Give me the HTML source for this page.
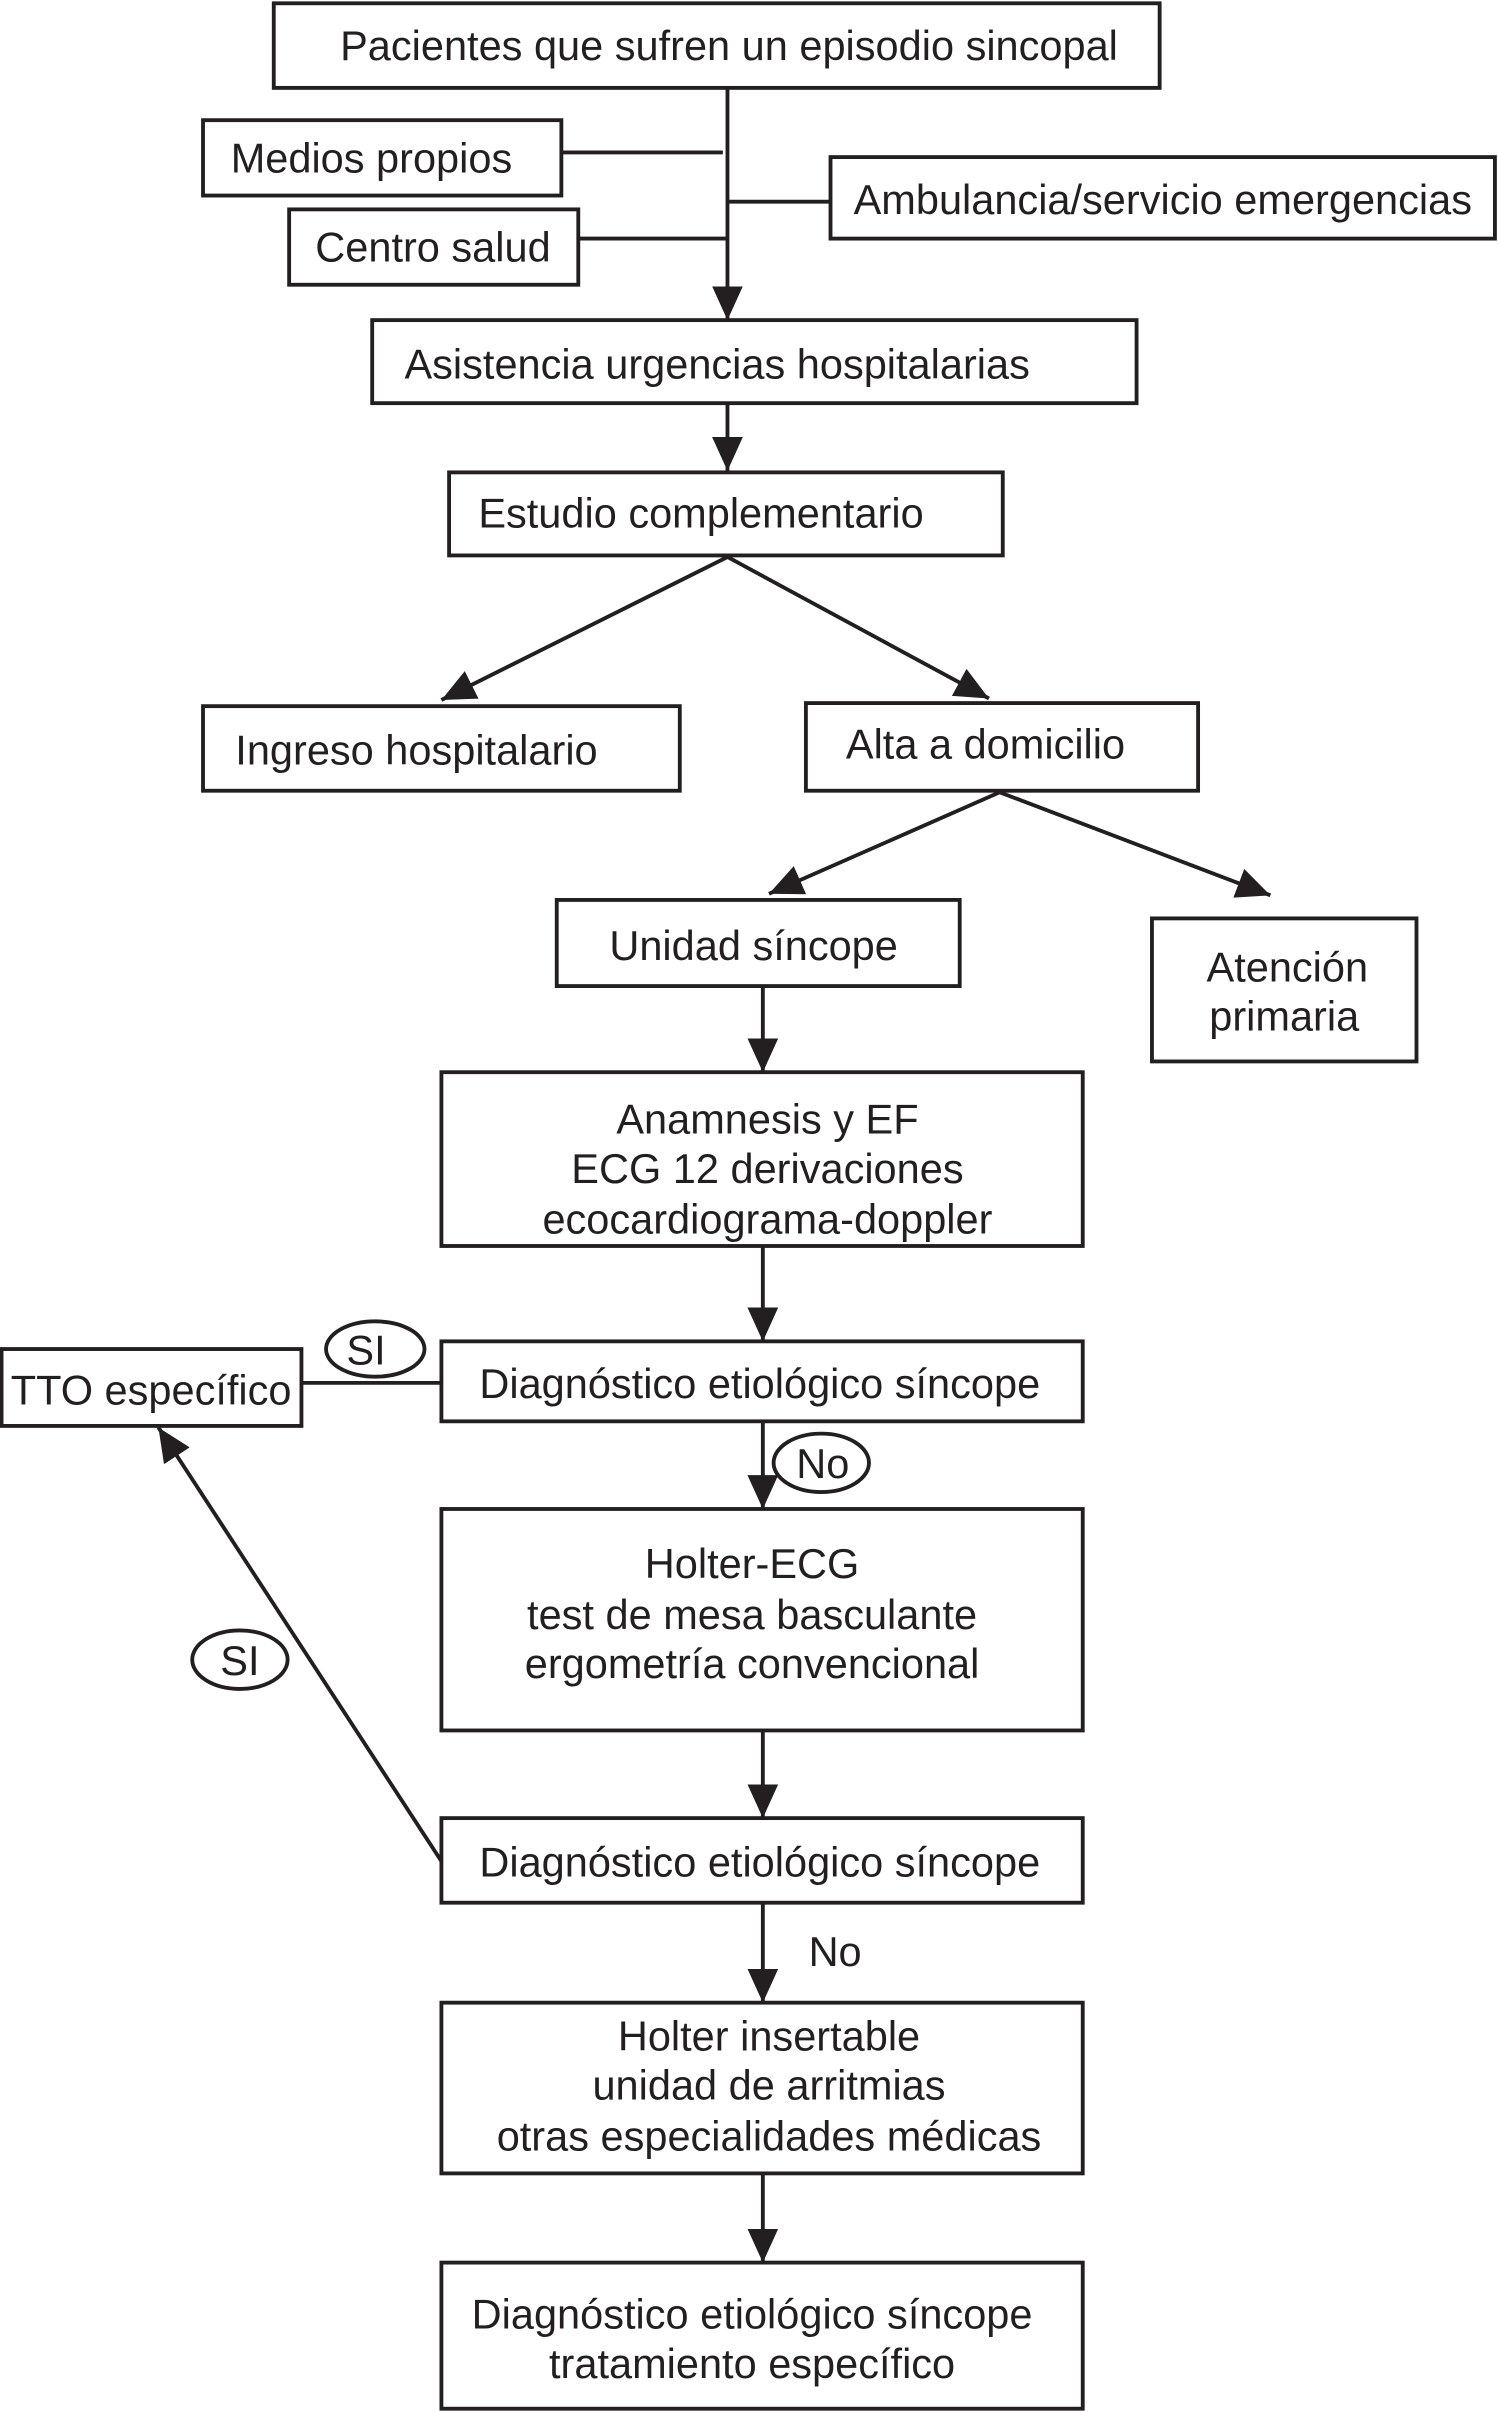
<!DOCTYPE html>
<html><head><meta charset="utf-8"><style>
html,body{margin:0;padding:0;background:#fff;}
svg{display:block;}
text{font-family:"Liberation Sans",Arial,sans-serif;font-size:27px;fill:#231f20;}
</style></head><body>
<svg width="1498" height="2412" viewBox="0 0 974 1568" xmlns="http://www.w3.org/2000/svg">
<defs>
<marker id="a" markerWidth="22" markerHeight="20" refX="22" refY="10" orient="auto" markerUnits="userSpaceOnUse">
<path d="M0,0 L22,10 L0,20 Z" fill="#231f20"/>
</marker>
</defs>
<g fill="none" stroke="#231f20" stroke-width="2.5">
<rect x="178" y="2" width="576" height="55"/>
<rect x="132" y="78" width="233" height="49"/>
<rect x="188" y="136" width="188" height="49"/>
<rect x="540" y="102" width="432" height="53"/>
<rect x="242" y="208" width="497" height="54"/>
<rect x="292" y="307" width="360" height="54"/>
<rect x="132" y="459" width="310" height="55"/>
<rect x="524" y="457" width="255" height="57"/>
<rect x="362" y="585" width="262" height="56"/>
<rect x="749" y="597" width="172" height="93"/>
<rect x="287" y="697" width="417" height="113"/>
<rect x="287" y="872" width="417" height="52"/>
<rect x="1" y="877" width="195" height="50"/>
<rect x="287" y="981" width="417" height="144"/>
<rect x="287" y="1182" width="417" height="55"/>
<rect x="287" y="1302" width="417" height="111"/>
<rect x="287" y="1471" width="417" height="95"/>
<line x1="365" y1="99" x2="470" y2="99"/>
<line x1="376" y1="155" x2="473" y2="155"/>
<line x1="473" y1="131" x2="540" y2="131"/>
<line x1="473" y1="57" x2="473" y2="208" marker-end="url(#a)"/>
<line x1="473" y1="262" x2="473" y2="306" marker-end="url(#a)"/>
<line x1="473" y1="362" x2="287" y2="455" marker-end="url(#a)"/>
<line x1="473" y1="362" x2="643" y2="454" marker-end="url(#a)"/>
<line x1="650" y1="515" x2="500" y2="581" marker-end="url(#a)"/>
<line x1="650" y1="515" x2="826" y2="582" marker-end="url(#a)"/>
<line x1="496" y1="641" x2="496" y2="697" marker-end="url(#a)"/>
<line x1="496" y1="810" x2="496" y2="872" marker-end="url(#a)"/>
<line x1="196" y1="899" x2="287" y2="899"/>
<line x1="496" y1="924" x2="496" y2="981" marker-end="url(#a)"/>
<line x1="496" y1="1125" x2="496" y2="1182" marker-end="url(#a)"/>
<line x1="287" y1="1210" x2="103" y2="928" marker-end="url(#a)"/>
<line x1="496" y1="1237" x2="496" y2="1302" marker-end="url(#a)"/>
<line x1="496" y1="1413" x2="496" y2="1471" marker-end="url(#a)"/>
<ellipse cx="244" cy="877" rx="32" ry="18" fill="#fff"/>
<ellipse cx="534" cy="951" rx="31" ry="19" fill="#fff"/>
<ellipse cx="156" cy="1079" rx="31" ry="19" fill="#fff"/>
</g>
<text x="474" y="39" text-anchor="middle">Pacientes que sufren un episodio sincopal</text>
<text x="150" y="112">Medios propios</text>
<text x="205" y="170">Centro salud</text>
<text x="555" y="139">Ambulancia/servicio emergencias</text>
<text x="263" y="246">Asistencia urgencias hospitalarias</text>
<text x="311" y="343">Estudio complementario</text>
<text x="153" y="497">Ingreso hospitalario</text>
<text x="550" y="493">Alta a domicilio</text>
<text x="490" y="624" text-anchor="middle">Unidad síncope</text>
<text x="837" y="638" text-anchor="middle">Atención</text>
<text x="835" y="670" text-anchor="middle">primaria</text>
<text x="499" y="737" text-anchor="middle">Anamnesis y EF</text>
<text x="499" y="769" text-anchor="middle">ECG 12 derivaciones</text>
<text x="499" y="802" text-anchor="middle">ecocardiograma-doppler</text>
<text x="494" y="909" text-anchor="middle">Diagnóstico etiológico síncope</text>
<text x="7" y="913">TTO específico</text>
<text x="238" y="887" text-anchor="middle">SI</text>
<text x="535" y="961" text-anchor="middle">No</text>
<text x="156" y="1089" text-anchor="middle">SI</text>
<text x="489" y="1026" text-anchor="middle">Holter-ECG</text>
<text x="489" y="1059" text-anchor="middle">test de mesa basculante</text>
<text x="489" y="1091" text-anchor="middle">ergometría convencional</text>
<text x="494" y="1220" text-anchor="middle">Diagnóstico etiológico síncope</text>
<text x="543" y="1278" text-anchor="middle">No</text>
<text x="500" y="1333" text-anchor="middle">Holter insertable</text>
<text x="500" y="1365" text-anchor="middle">unidad de arritmias</text>
<text x="500" y="1398" text-anchor="middle">otras especialidades médicas</text>
<text x="489" y="1514" text-anchor="middle">Diagnóstico etiológico síncope</text>
<text x="489" y="1546" text-anchor="middle">tratamiento específico</text>
</svg>
</body></html>
